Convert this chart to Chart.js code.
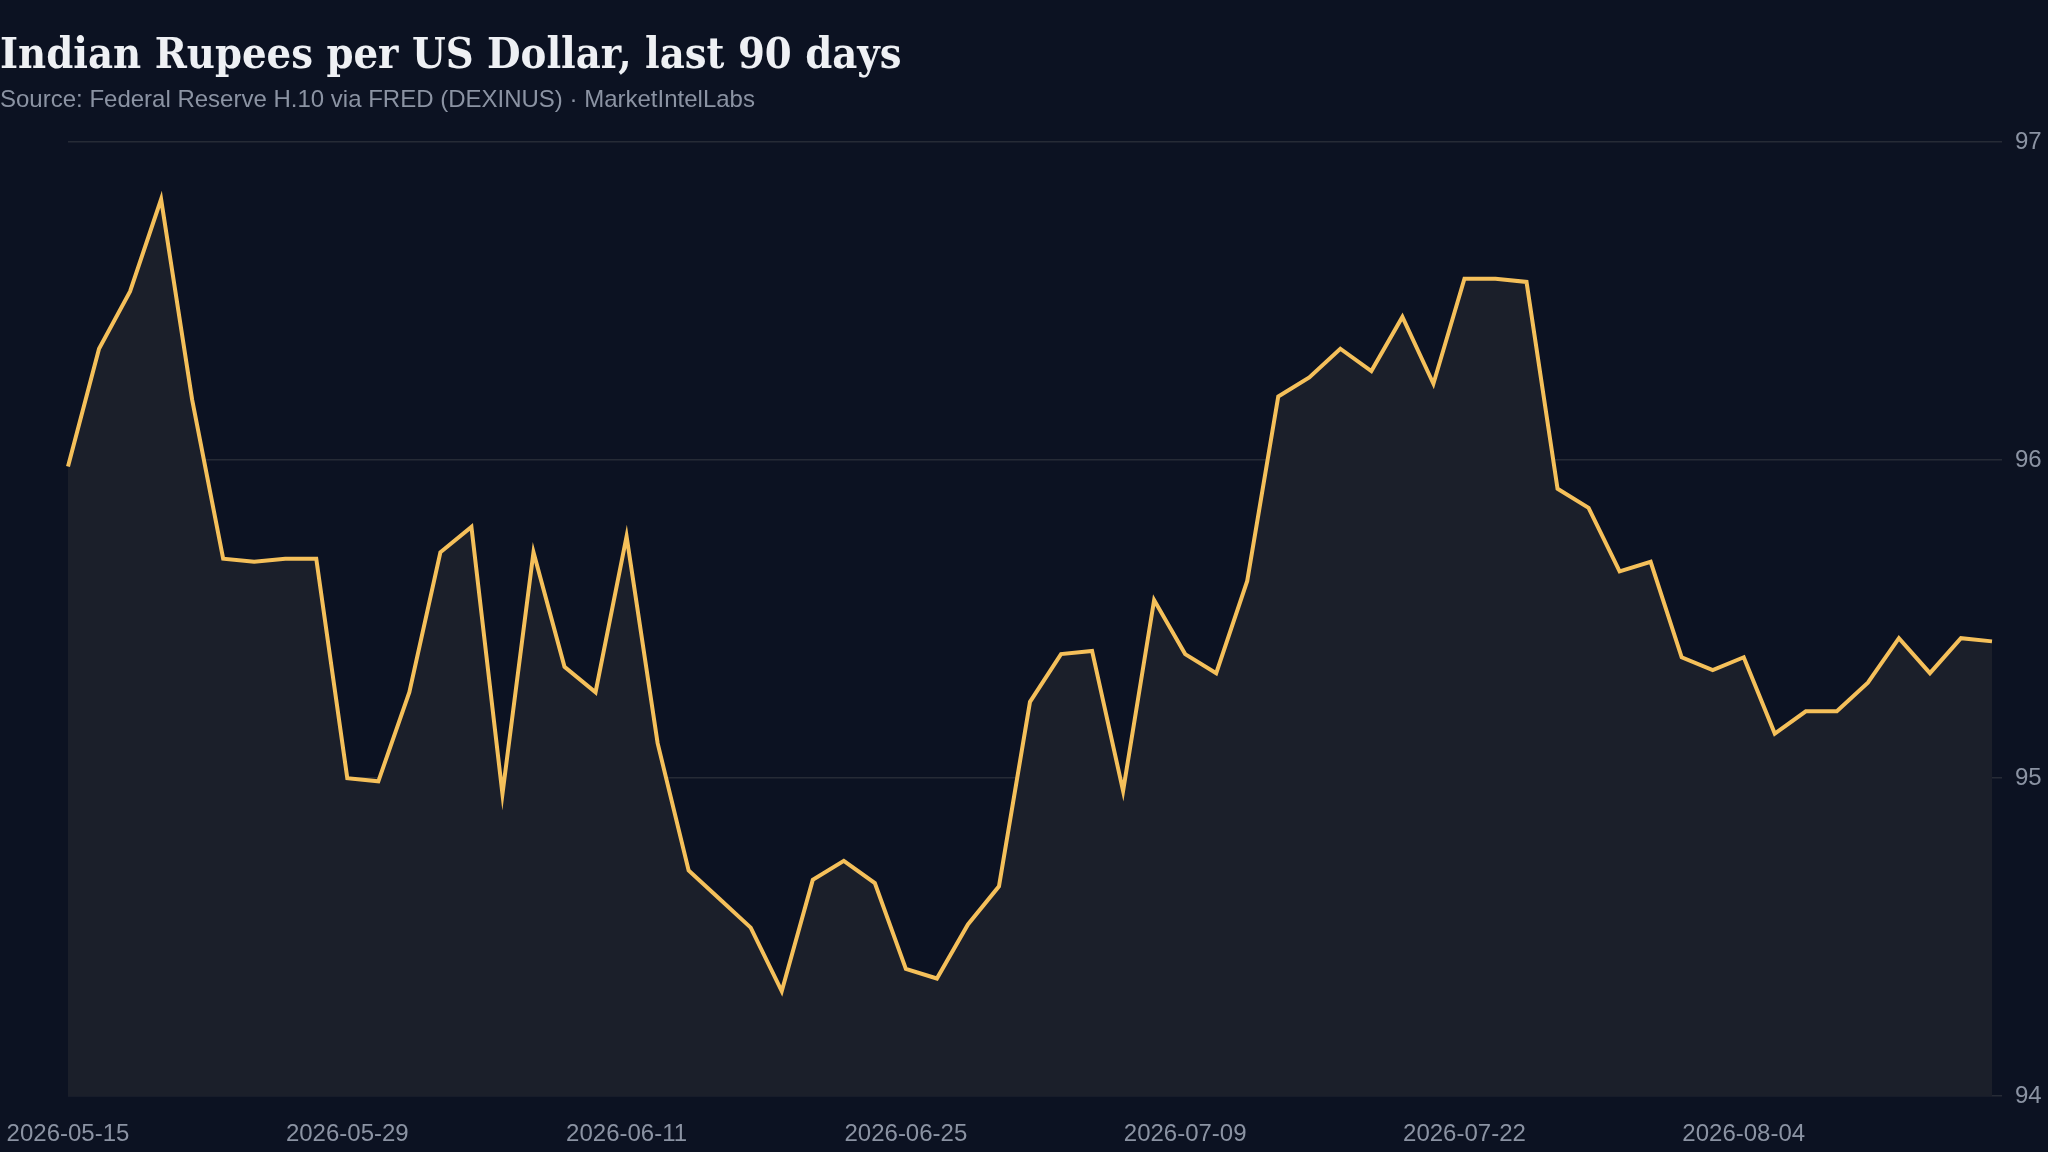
<!DOCTYPE html>
<html>
<head>
<meta charset="utf-8">
<script src="https://cdn.jsdelivr.net/npm/chart.js@4"></script>
<style>
  html, body { margin: 0; padding: 0; background: #0c1222; }
  #wrap { position: relative; width: 2048px; height: 1152px; }
  #title { position: absolute; left: 0; top: 28px; font-family: "DejaVu Serif Condensed", "DejaVu Serif", serif; font-stretch: condensed; font-weight: bold; font-size: 43px; color: #eef0f4; }
  #sub { position: absolute; left: 0; top: 85px; font-family: "Liberation Sans", Arial, sans-serif; font-size: 24px; color: #8b93a3; }
  canvas { position: absolute; left: 0; top: 0; }
</style>
</head>
<body>
<div id="wrap">
  <canvas id="chart" width="2048" height="1152"></canvas>
  <div id="title">Indian Rupees per US Dollar, last 90 days</div>
  <div id="sub">Source: Federal Reserve H.10 via FRED (DEXINUS) · MarketIntelLabs</div>
</div>
<script>
let dates = ['2026-05-15','2026-05-18','2026-05-19','2026-05-20','2026-05-21','2026-05-22',
  '2026-05-26','2026-05-27','2026-05-28','2026-05-29',
  '2026-06-01','2026-06-02','2026-06-03','2026-06-04','2026-06-05',
  '2026-06-08','2026-06-09','2026-06-10','2026-06-11','2026-06-12',
  '2026-06-15','2026-06-16','2026-06-17','2026-06-18',
  '2026-06-22','2026-06-23','2026-06-24','2026-06-25','2026-06-26',
  '2026-06-29','2026-06-30','2026-07-01','2026-07-02',
  '2026-07-06','2026-07-07','2026-07-08','2026-07-09','2026-07-10',
  '2026-07-13','2026-07-14','2026-07-15','2026-07-16','2026-07-17',
  '2026-07-20','2026-07-21','2026-07-22','2026-07-23','2026-07-24',
  '2026-07-27','2026-07-28','2026-07-29','2026-07-30','2026-07-31',
  '2026-08-03','2026-08-04','2026-08-05','2026-08-06','2026-08-07',
  '2026-08-10','2026-08-11','2026-08-12','2026-08-13','2026-08-14']
let rates = [95.98, 96.35, 96.53, 96.82, 96.19, 95.69, 95.68, 95.69, 95.69, 95.00,
  94.99, 95.27, 95.71, 95.79, 94.95, 95.71, 95.35, 95.27, 95.76, 95.11,
  94.71, 94.62, 94.53, 94.33, 94.68, 94.74, 94.67, 94.40, 94.37, 94.54,
  94.66, 95.24, 95.39, 95.40, 94.96, 95.56, 95.39, 95.33, 95.62, 96.20,
  96.26, 96.35, 96.28, 96.45, 96.24, 96.57, 96.57, 96.56, 95.91, 95.85,
  95.65, 95.68, 95.38, 95.34, 95.38, 95.14, 95.21, 95.21, 95.30, 95.44,
  95.33, 95.44, 95.43]
let shownTicks = ['2026-05-15','2026-05-29','2026-06-11','2026-06-25','2026-07-09','2026-07-22','2026-08-04']

new Chart(document.getElementById('chart'), {
  type: 'line',
  data: {
    labels: dates,
    datasets: [{
      data: rates,
      borderColor: '#f5c05a',
      borderWidth: 4,
      backgroundColor: '#1b1f2a',
      fill: 'start',
      pointRadius: 0,
      tension: 0
    }]
  },
  options: {
    responsive: false,
    animation: false,
    layout: { padding: { top: 142, left: 68, right: 0, bottom: -13 } },
    plugins: { legend: { display: false }, tooltip: { enabled: false } },
    scales: {
      x: {
        offset: false,
        afterFit: function(s) { s.paddingLeft = 0; s.paddingRight = 0 },
        grid: { display: false },
        border: { display: false },
        ticks: {
          autoSkip: false, maxRotation: 0, color: '#8b93a3', padding: 16,
          font: { family: 'Liberation Sans', size: 24 },
          callback: function(v, i) { return shownTicks.includes(dates[i]) ? dates[i] : null }
        }
      },
      y: {
        position: 'right',
        min: 94, max: 97,
        afterFit: function(s) { s.width = 56 },
        grid: { color: '#262b36', lineWidth: 1.5, tickLength: 10 },
        border: { display: false },
        ticks: { stepSize: 1, color: '#8b93a3', padding: 13, font: { family: 'Liberation Sans', size: 24 } }
      }
    }
  }
})
</script>
</body>
</html>
